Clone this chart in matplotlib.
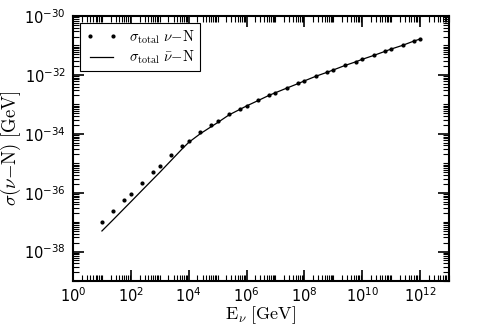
import numpy as np
import matplotlib
matplotlib.use("Agg")
import matplotlib.pyplot as plt
from matplotlib.ticker import LogLocator, FixedLocator, NullFormatter

plt.rcParams['mathtext.fontset'] = 'cm'
plt.rcParams['axes.unicode_minus'] = False

# neutrino energies [GeV]
energy = [1e1, 2.5e1, 6e1, 1e2, 2.5e2, 6e2, 1e3, 2.5e3, 6e3, 1e4, 2.5e4, 6e4,
          1e5, 2.5e5, 6e5, 1e6, 2.5e6, 6e6, 1e7, 2.5e7, 6e7, 1e8, 2.5e8, 6e8,
          1e9, 2.5e9, 6e9, 1e10, 2.5e10, 6e10, 1e11, 2.5e11, 6e11, 1e12]

# total cross section, nu-N (dots)
sigma_nu = [1.0e-37, 2.45e-37, 5.6e-37, 9.3e-37, 2.19e-36, 5.0e-36, 8.3e-36,
            1.9e-35, 3.98e-35, 5.9e-35, 1.17e-34, 2.04e-34, 2.69e-34, 4.57e-34,
            6.9e-34, 8.9e-34, 1.35e-33, 2.04e-33, 2.5e-33, 3.6e-33, 5.1e-33,
            6.3e-33, 9.1e-33, 1.23e-32, 1.48e-32, 2.09e-32, 2.8e-32, 3.4e-32,
            4.6e-32, 6.3e-32, 7.6e-32, 1.02e-31, 1.41e-31, 1.66e-31]

# total cross section, anti-nu-N (line)
sigma_nubar = [5.0e-38, 1.23e-37, 2.95e-37, 4.9e-37, 1.23e-36, 2.95e-36, 4.9e-36,
               1.26e-35, 3.1e-35, 5.1e-35, 1.0e-34, 1.74e-34, 2.4e-34, 4.4e-34,
               6.8e-34, 8.8e-34, 1.34e-33, 2.02e-33, 2.48e-33, 3.58e-33, 5.05e-33,
               6.25e-33, 9.0e-33, 1.22e-32, 1.47e-32, 2.08e-32, 2.78e-32, 3.38e-32,
               4.58e-32, 6.25e-32, 7.55e-32, 1.01e-31, 1.40e-31, 1.65e-31]

fig = plt.figure(figsize=(4.91, 3.27), dpi=100)
ax = fig.add_axes([0.1487, 0.1407, 0.7658, 0.8104])

ax.plot(energy, sigma_nu, 'k.', ms=4, label=r'$\sigma_{\rm total}\ \nu{-}{\rm N}$')
ax.plot(energy, sigma_nubar, 'k-', lw=0.9, label=r'$\sigma_{\rm total}\ \bar{\nu}{-}{\rm N}$')

ax.set_xscale('log')
ax.set_yscale('log')
ax.set_xlim(1, 1e13)
ax.set_ylim(1e-39, 1e-30)

ax.xaxis.set_major_locator(FixedLocator(10.0 ** np.arange(0, 13, 2)))
ax.yaxis.set_major_locator(FixedLocator(10.0 ** np.arange(-38, -29, 2)))
ax.xaxis.set_minor_locator(LogLocator(base=10, subs=np.arange(1, 10), numticks=200))
ax.yaxis.set_minor_locator(LogLocator(base=10, subs=np.arange(1, 10), numticks=200))
ax.xaxis.set_minor_formatter(NullFormatter())
ax.yaxis.set_minor_formatter(NullFormatter())

ax.tick_params(which='both', direction='in', top=True, right=True, width=1.2)
ax.tick_params(which='major', length=8, labelsize=10.5, pad=5)
ax.tick_params(axis='x', which='major', pad=3.5)
ax.tick_params(which='minor', length=4.5, width=0.8)
for s in ax.spines.values():
    s.set_linewidth(1.5)

ax.set_xlabel(r'$\rm E_{\nu}\ [GeV]$', fontsize=13, labelpad=0)
ax.set_ylabel(r'$\sigma(\nu{-}{\rm N})\ [{\rm GeV}]$', fontsize=13.5, labelpad=1)

leg = ax.legend(loc='upper left', numpoints=2, fontsize=10.5, fancybox=False,
                edgecolor='black', framealpha=1, borderaxespad=0.5,
                handlelength=2.2, labelspacing=0.2, borderpad=0.35)
leg.get_frame().set_linewidth(0.8)

fig.savefig('out.png', dpi=100)
